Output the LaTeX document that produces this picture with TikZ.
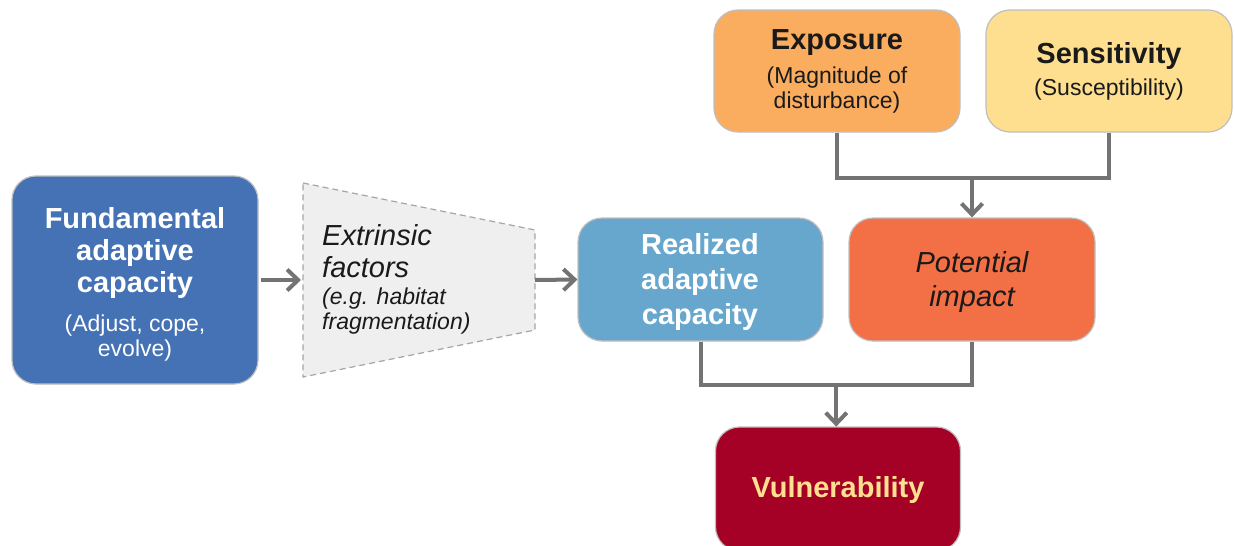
\documentclass[tikz,border=0pt]{standalone}
\usepackage{fontspec}
\setmainfont{Liberation Sans}
\usetikzlibrary{arrows.meta,calc}
\definecolor{fundblue}{HTML}{4472B4}
\definecolor{realblue}{HTML}{67A7CE}
\definecolor{potorange}{HTML}{F36F45}
\definecolor{expoorange}{HTML}{FBAD5F}
\definecolor{sensyellow}{HTML}{FEDF90}
\definecolor{vulred}{HTML}{A50026}
\definecolor{vultext}{HTML}{FEE090}
\definecolor{boxline}{HTML}{BFBFBF}
\definecolor{trapfill}{HTML}{EFEFEF}
\definecolor{trapline}{HTML}{A6A6A6}
\definecolor{conncol}{HTML}{737373}
\definecolor{txt}{HTML}{1A1A1A}
\begin{document}
\begin{tikzpicture}[x=1pt,y=-1pt,
  box/.style={draw=boxline,line width=1.2pt,rounded corners=24pt,inner sep=0pt},
  hd/.style={inner sep=0pt,align=center,font=\fontsize{29}{32}\selectfont\bfseries},
  sub/.style={inner sep=0pt,align=center,font=\fontsize{23}{25}\selectfont},
  conn/.style={draw=conncol,line width=4pt},
  arr/.style={conn,-{Straight Barb[length=11pt,width=21pt]}},
  trap/.style={draw=trapline,fill=trapfill,line width=1.2pt,dash pattern=on 6pt off 4pt}
]
\useasboundingbox (0,0) rectangle (1235,546);
\fill[white] (0,0) rectangle (1235,546);

% boxes
\node[box,fill=fundblue,minimum width=246pt,minimum height=208pt] (fund) at (135,280) {};
\node[box,fill=realblue,minimum width=245pt,minimum height=123pt] (real) at (700.5,279.5) {};
\node[box,fill=potorange,minimum width=246pt,minimum height=123pt] (pot) at (972,279.5) {};
\node[box,fill=expoorange,minimum width=246pt,minimum height=122pt] (expo) at (837,71) {};
\node[box,fill=sensyellow,minimum width=246pt,minimum height=122pt] (sens) at (1109,71) {};
\node[box,fill=vulred,minimum width=245pt,minimum height=124pt] (vul) at (838,489) {};

% trapezoid
\draw[trap] (303,183) -- (535,230) -- (535,330) -- (303,377) -- cycle;
\coordinate (extrW) at (301,280);
\coordinate (extrE) at (535,280);

% texts
\node[hd,text=white] (fundT) at (135,253) {Fundamental\\adaptive\\capacity};
\node[sub,text=white] (fundS) at (135,338) {(Adjust, cope,\\evolve)};
\node[hd,font=\fontsize{29}{32}\selectfont\itshape,text=txt,align=left,anchor=west] (extrT) at (322,251) {Extrinsic\\factors};
\node[sub,font=\fontsize{23}{25}\selectfont\itshape,text=txt,align=left,anchor=west] (extrS) at (322,311) {(e.g. habitat\\fragmentation)};
\node[hd,font=\fontsize{29}{35}\selectfont\bfseries,text=white] (realT) at (700,282) {Realized\\adaptive\\capacity};
\node[hd,font=\fontsize{29}{34}\selectfont\itshape,text=txt] (potT) at (972,282) {Potential\\impact};
\node[hd,text=txt] (expoT) at (837,43) {Exposure};
\node[sub,text=txt] (expoS) at (837,90) {(Magnitude of\\disturbance)};
\node[hd,text=txt] (sensT) at (1109,56) {Sensitivity};
\node[sub,text=txt] (sensS) at (1109,90) {(Susceptibility)};
\node[hd,text=vultext] (vulT) at (838,490) {Vulnerability};

% connectors
\draw[arr,shorten <=2pt] (fund.east) -- (extrW);
\draw[arr] (extrE) -- (real.west);
\draw[conn] (expo.south) -- ++(0,45) coordinate (j1) -| (sens.south);
\draw[arr] (pot.north |- j1) -- (pot.north);
\draw[conn] (real.south) -- ++(0,43) coordinate (j2) -| (pot.south);
\draw[arr] ($(real.south |- j2)!0.5!(pot.south |- j2)$) -- ($(real.south)!0.5!(pot.south) + (0,85)$);
\end{tikzpicture}
\end{document}
